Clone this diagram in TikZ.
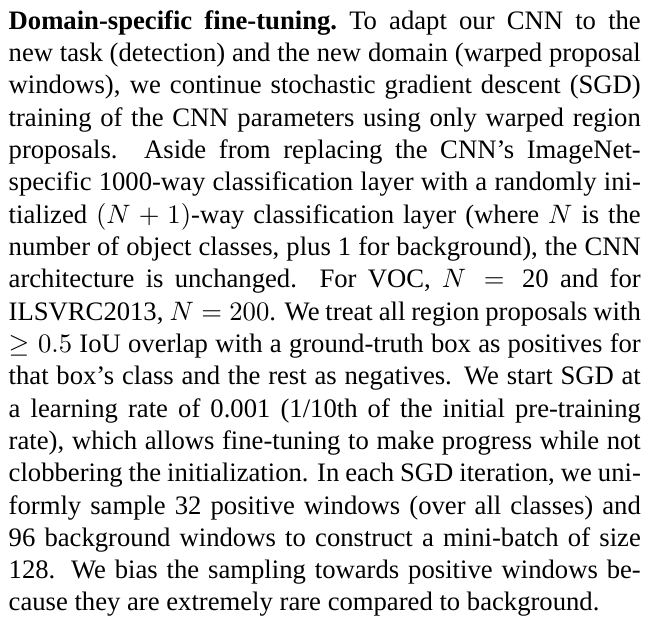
\documentclass[tikz,border=0pt]{standalone}
\usepackage[no-math]{fontspec}
\setmainfont{Liberation Serif}
\tikzset{para/.style={inner sep=0pt, outer sep=0pt, anchor=base west}}
\begin{document}
\begin{tikzpicture}
\fill[white] (0,0) rectangle (245.3pt,-233.7pt);
\useasboundingbox (0,0) rectangle (245.3pt,-233.7pt);
\node[para] (text) at (3.26pt,-11.0pt) {\begin{minipage}[t]{237.1pt}%
\fontsize{10pt}{12.12pt}\selectfont
\parindent=0pt \tolerance=10000 \pretolerance=-1 \hyphenpenalty=10000 \exhyphenpenalty=10000 \hbadness=10000
\textbf{Domain-specific fine-tuning.}\ To adapt our CNN to the\linebreak
new task (detection) and the new domain (warped proposal\linebreak
windows), we continue stochastic gradient descent (SGD)\linebreak
training of the CNN parameters using only warped region\linebreak
proposals.  Aside from replacing the CNN's ImageNet-\linebreak
specific 1000-way classification layer with a randomly ini-\linebreak
tialized $(N+1)$-way classification layer (where $N$ is the\linebreak
number of object classes, plus 1 for background), the CNN\linebreak
architecture is unchanged.  For VOC, $N = \mbox{20}$ and for\linebreak
ILSVRC2013, $N=200$. We treat all region proposals with\linebreak
$\geq 0.5$ IoU overlap with a ground-truth box as positives for\linebreak
that box's class and the rest as negatives.  We start SGD at\linebreak
a learning rate of 0.001 (1/10th of the initial pre-training\linebreak
rate), which allows fine-tuning to make progress while not\linebreak
clobbering the initialization. In each SGD iteration, we uni-\linebreak
formly sample 32 positive windows (over all classes) and\linebreak
96 background windows to construct a mini-batch of size\linebreak
128.  We bias the sampling towards positive windows be-\linebreak
cause they are extremely rare compared to background.\par
\end{minipage}};
\end{tikzpicture}
\end{document}
